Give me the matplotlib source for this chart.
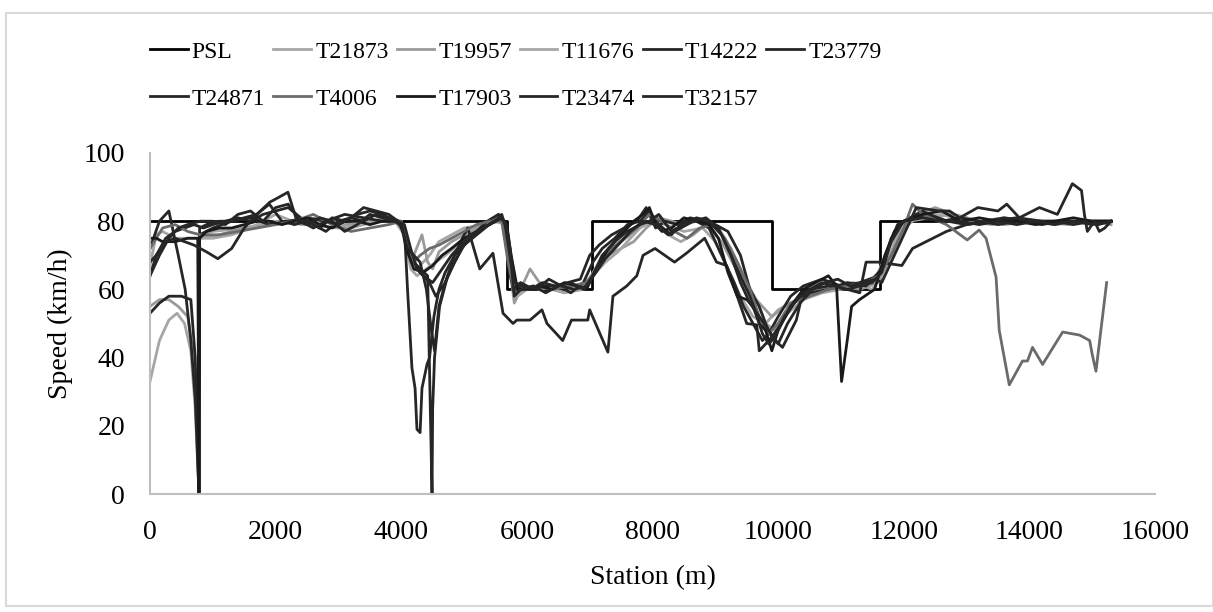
import matplotlib.pyplot as plt
from matplotlib.patches import Rectangle

# permissible speed limit
psl_x = [0, 5680, 5680, 7030, 7030, 9900, 9900, 11620, 11620, 15300]
psl_y = [80, 80, 60, 60, 80, 80, 60, 60, 80, 80]

t21873_x = [0, 150, 300, 430, 550, 650, 720, 780, 790, 1000, 1500, 2000, 2500, 3000, 3500, 3900, 4050, 4150,
            4250, 4350, 4450, 4600, 4800, 5000, 5300, 5600, 5700, 5800, 6000, 6200, 6500, 6800, 7000, 7200, 7500,
            7800, 8000, 8200, 8500, 8800, 9000, 9200, 9400, 9600, 9800, 10000, 10300, 10600, 10900, 11200, 11500,
            11700, 11900, 12100, 12400, 12800, 13200, 13600, 14000, 14400, 14800, 15300]
t21873_y = [33, 45, 51, 53, 50, 42, 25, 0, 76, 77, 78, 80, 79, 78, 80, 80, 78, 70, 66, 68, 70, 74, 76, 78, 79, 80,
            70, 60, 61, 60, 61, 61, 63, 70, 74, 78, 80, 79, 77, 78, 74, 66, 58, 52, 50, 54, 57, 60, 61, 62, 60, 66,
            76, 80, 81, 82, 80, 81, 80, 79, 80, 80]

t19957_x = [0, 150, 300, 450, 600, 700, 780, 790, 1100, 1500, 1900, 2300, 2700, 3100, 3500, 3800, 4000, 4100,
            4200, 4330, 4420, 4500, 4600, 4800, 5000, 5200, 5400, 5550, 5650, 5750, 5800, 5900, 6050, 6200, 6400,
            6600, 6800, 6950, 7100, 7300, 7500, 7700, 7900, 8100, 8300, 8500, 8700, 8900, 9100, 9300, 9500, 9700,
            9900, 10100, 10400, 10700, 11000, 11300, 11600, 11800, 12000, 12200, 12500, 12800, 13200, 13600, 14000,
            14500, 15000, 15300]
t19957_y = [55, 57, 57, 55, 52, 40, 0, 75, 76, 78, 79, 80, 81, 79, 80, 81, 80, 72, 70, 76, 68, 66, 71, 74, 76,
            78, 80, 82, 78, 63, 56, 60, 66, 62, 60, 59, 61, 62, 66, 70, 72, 74, 78, 81, 80, 79, 80, 78, 74, 67, 60,
            56, 52, 55, 58, 60, 61, 60, 62, 70, 78, 82, 84, 82, 80, 79, 80, 80, 80, 79]

t11676_x = [0, 100, 200, 400, 600, 800, 1000, 1300, 1600, 2000, 2400, 2800, 3200, 3600, 3900, 4050, 4150, 4250,
            4400, 4550, 4700, 4900, 5100, 5300, 5500, 5650, 5750, 5850, 6000, 6300, 6600, 6900, 7050, 7250, 7450,
            7650, 7850, 8050, 8250, 8450, 8650, 8850, 9050, 9250, 9450, 9650, 9800, 9950, 10150, 10400, 10700,
            11000, 11300, 11550, 11750, 11950, 12200, 12600, 13000, 13400, 13800, 14200, 14600, 15000, 15300]
t11676_y = [67, 76, 77, 75, 75, 75, 75, 76, 78, 82, 79, 80, 78, 80, 80, 76, 66, 64, 66, 68, 70, 73, 76, 78, 80,
            79, 70, 58, 60, 61, 59, 60, 64, 68, 71, 75, 79, 80, 76, 74, 76, 79, 78, 72, 64, 57, 50, 48, 53, 57, 59,
            60, 61, 63, 72, 77, 81, 82, 80, 79, 81, 80, 79, 80, 80]

t14222_x = [0, 150, 300, 450, 560, 650, 720, 780, 790, 900, 1100, 1300, 1500, 1700, 1900, 2100, 2300, 2500, 2700,
            2900, 3100, 3300, 3500, 3700, 3900, 4050, 4100, 4170, 4220, 4250, 4300, 4330, 4410, 4450, 4520, 4600,
            4700, 4850, 5000, 5150, 5300, 5500, 5600, 5700, 5780, 5900, 6100, 6300, 6500, 6700, 6900, 7050, 7200,
            7400, 7600, 7800, 7950, 8100, 8300, 8500, 8700, 8900, 9100, 9300, 9450, 9600, 9750, 9850, 10000, 10200,
            10400, 10700, 11000, 11300, 11600, 11750, 11900, 12100, 12400, 12700, 13000, 13300, 13600, 13900,
            14200, 14500, 14800, 15100, 15300]
t14222_y = [72, 80, 83, 70, 60, 45, 28, 0, 78, 79, 80, 80, 81, 82, 85, 80, 79, 80, 78, 81, 80, 82, 83, 82, 80,
            78, 60, 37, 31, 19, 18, 31, 38, 40, 52, 60, 65, 70, 73, 76, 78, 80, 81, 74, 60, 62, 60, 61, 61, 59, 62,
            68, 72, 75, 79, 80, 83, 79, 76, 80, 80, 78, 70, 62, 55, 50, 45, 47, 52, 58, 61, 63, 61, 62, 64, 72, 79,
            81, 82, 80, 79, 80, 81, 80, 79, 80, 80, 79, 80]

t23779_x = [0, 100, 250, 400, 550, 700, 850, 1000, 1200, 1400, 1600, 1800, 2000, 2200, 2400, 2600, 2800, 3000,
            3200, 3400, 3600, 3800, 3950, 4050, 4100, 4200, 4300, 4420, 4490, 4500, 4530, 4610, 4740, 4960, 5170,
            5370, 5550, 5650, 5720, 5800, 5900, 6050, 6250, 6450, 6650, 6850, 7000, 7150, 7350, 7550, 7750, 7900,
            8050, 8200, 8400, 8600, 8800, 9000, 9200, 9400, 9550, 9700, 9800, 9900, 10050, 10250, 10500, 10800,
            11100, 11400, 11650, 11800, 12000, 12300, 12600, 12900, 13200, 13500, 13800, 14100, 14400, 14700, 15000,
            15300]
t23779_y = [64, 70, 75, 77, 78, 79, 78, 79, 80, 81, 80, 82, 83, 84, 81, 79, 77, 80, 81, 80, 82, 81, 80, 78, 71,
            68, 66, 64, 0, 25, 40, 55, 64, 72, 76.5, 80, 82, 79, 65, 59, 61, 60, 62, 61, 62, 63, 70, 73, 76, 78, 80,
            84, 78, 80, 79, 81, 80, 79, 77, 70, 60, 55, 50, 46, 50, 56, 59, 60, 62, 61, 66, 75, 80, 83, 80, 81, 80,
            79, 80, 80, 80, 79, 80, 80]

t24871_x = [0, 150, 300, 500, 650, 720, 780, 790, 1000, 1300, 1600, 1900, 2200, 2500, 2800, 3100, 3400, 3700, 3950,
            4050, 4150, 4300, 4450, 4550, 4700, 4850, 5000, 5060, 5250, 5460, 5620, 5780, 5840, 6050, 6240, 6320,
            6570, 6710, 6970, 7000, 7290, 7370, 7590, 7750, 7850, 8040, 8350, 8540, 8830, 9020, 9180, 9500, 9660,
            9700, 9900, 10070, 10290, 10390, 10500, 10800, 11100, 11300, 11400, 11600, 11970, 12140, 12680, 13000,
            13400, 13800, 14200, 14600, 15000, 15300]
t24871_y = [53, 56, 58, 58, 57, 40, 0, 76, 78, 80, 81, 79, 80, 81, 80, 82, 81, 80, 80, 76, 70, 65, 62, 58, 62, 70,
            76, 78, 66, 70.6, 53, 50, 51, 51, 54, 50, 45, 51, 51, 54, 41.6, 58, 61, 64, 70, 72, 68, 70.6, 75, 68, 67,
            50, 49.6, 42, 46, 43, 51, 59, 60, 61, 60, 59, 68, 68, 67, 72, 77, 79, 80, 81, 80, 80, 80, 80]

t4006_x = [0, 200, 400, 600, 800, 1100, 1400, 1700, 2000, 2300, 2600, 2900, 3200, 3500, 3800, 4000, 4100, 4200,
           4300, 4450, 4600, 4800, 5000, 5200, 5400, 5600, 5700, 5800, 5950, 6100, 6400, 6700, 6950, 7150, 7350,
           7550, 7750, 7950, 8150, 8350, 8550, 8750, 8950, 9150, 9350, 9550, 9700, 9850, 10000, 10200, 10500,
           10800, 11100, 11400, 11600, 11800, 12000, 12140, 12300, 12680, 13010, 13200, 13310, 13470, 13520, 13680,
           13890, 13970, 14050, 14210, 14530, 14800, 14960, 15000, 15060, 15230]
t4006_y = [72, 78, 79, 77, 76, 76, 77, 78, 79, 80, 82, 79, 77, 78, 79, 80, 74, 68, 70, 72, 73, 75, 77, 79, 80, 80,
           68, 59, 60, 61, 60, 61, 62, 67, 72, 75, 78, 82, 80, 77, 75, 78, 79, 75, 68, 60, 52, 47, 50, 56, 58, 60,
           61, 62, 64, 70, 78, 85, 82, 79, 74.5, 77.4, 75, 63.6, 48, 32, 39, 39, 43, 38, 47.5, 46.6, 45, 41, 36, 62]

t17903_x = [0, 100, 200, 400, 600, 760, 780, 790, 900, 1100, 1300, 1500, 1700, 1900, 2100, 2300, 2500, 2700, 2900,
            3100, 3300, 3500, 3700, 3900, 4000, 4080, 4200, 4350, 4500, 4650, 4800, 5000, 5200, 5400, 5600, 5680,
            5750, 5850, 6000, 6200, 6400, 6600, 6800, 6950, 7100, 7300, 7500, 7700, 7850, 7950, 8050, 8150, 8300,
            8500, 8700, 8900, 9050, 9200, 9350, 9500, 9600, 9700, 9800, 9900, 10000, 10200, 10400, 10600, 10800,
            10930, 11010, 11100, 11170, 11296, 11535, 11700, 11850, 12000, 12300, 12600, 12900, 13200, 13500, 13800,
            14100, 14400, 14700, 15000, 15300]
t17903_y = [75, 75, 74, 74, 75, 75, 0, 75, 77, 78, 78, 79, 80, 80, 79, 80, 81, 79, 78, 80, 80, 79, 80, 80, 79, 72,
            66, 65, 67, 70, 72, 75, 77, 79, 81, 79, 70, 60, 60, 61, 60, 62, 61, 60, 66, 72, 76, 80, 82, 84, 79, 77,
            78, 81, 80, 79, 75, 65, 58, 57, 55, 50, 48, 42, 48, 55, 60, 62, 64, 61, 33, 45, 55, 57, 60, 70, 77, 80,
            82, 83, 80, 81, 80, 80, 79, 80, 81, 80, 80]

t23474_x = [0, 150, 300, 450, 600, 800, 1000, 1200, 1400, 1600, 1800, 2000, 2200, 2400, 2600, 2800, 3000, 3200,
            3400, 3600, 3800, 3950, 4050, 4150, 4250, 4350, 4500, 4650, 4800, 4950, 5100, 5300, 5500, 5600, 5700,
            5800, 5950, 6150, 6350, 6550, 6750, 6950, 7100, 7250, 7450, 7650, 7850, 8050, 8250, 8450, 8650, 8850,
            9050, 9250, 9400, 9550, 9700, 9850, 10000, 10150, 10350, 10550, 10750, 10950, 11150, 11350, 11550,
            11650, 11800, 12000, 12200, 12570, 12730, 12890, 13180, 13500, 13640, 13840, 14160, 14446, 14685, 14830,
            14876, 14923, 15035, 15114, 15200, 15300]
t23474_y = [64, 70, 75, 78, 79, 80, 80, 79, 82, 83, 80, 84, 85, 80, 78, 80, 79, 81, 84, 83, 82, 80, 79, 72, 66,
            64, 62, 66, 70, 73, 76, 78, 80, 82, 76, 62, 61, 60, 63, 61, 60, 61, 65, 69, 73, 77, 80, 79, 76, 78, 80,
            81, 78, 70, 62, 56, 52, 48, 44, 50, 56, 60, 62, 63, 61, 62, 63, 62, 68, 76, 84, 83, 83, 81, 84, 83, 85,
            81, 84, 82, 91, 89, 82, 77, 80, 77, 78, 80]

t32157_x = [0, 100, 250, 400, 550, 700, 900, 1080, 1300, 1500, 1700, 1909, 2050, 2196, 2339, 2500, 2700, 2900,
            3100, 3300, 3500, 3700, 3900, 4000, 4100, 4200, 4300, 4400, 4480, 4530, 4600, 4700, 4850, 5000, 5200,
            5400, 5550, 5650, 5730, 5800, 5900, 6100, 6300, 6500, 6700, 6900, 7050, 7200, 7400, 7600, 7800, 7950,
            8100, 8300, 8500, 8700, 8900, 9100, 9250, 9400, 9550, 9650, 9750, 9850, 9950, 10100, 10300, 10500,
            10700, 10900, 11100, 11300, 11500, 11650, 11800, 12000, 12300, 12600, 12900, 13200, 13500, 13800,
            14100, 14400, 14700, 15000, 15300]
t32157_y = [68, 70, 74, 75, 74, 73, 71, 69, 72, 78, 82, 85.6, 87, 88.5, 80, 79, 81, 80, 77, 79, 82, 81, 80, 79,
            72, 70, 68, 60, 48, 42, 55, 62, 68, 73, 76, 79, 81, 80, 72, 58, 60, 61, 59, 61, 62, 60, 64, 70, 74, 77,
            79, 80, 82, 77, 79, 81, 80, 76, 70, 64, 58, 53, 47, 44, 46, 52, 57, 60, 62, 61, 60, 61, 62, 65, 74, 80,
            81, 80, 80, 79, 80, 79, 80, 79, 80, 79, 80]

series = [
    ("PSL", psl_x, psl_y, "#000000"),
    ("T21873", t21873_x, t21873_y, "#a6a6a6"),
    ("T19957", t19957_x, t19957_y, "#9a9a9a"),
    ("T11676", t11676_x, t11676_y, "#a6a6a6"),
    ("T14222", t14222_x, t14222_y, "#262626"),
    ("T23779", t23779_x, t23779_y, "#262626"),
    ("T24871", t24871_x, t24871_y, "#262626"),
    ("T4006", t4006_x, t4006_y, "#6b6b6b"),
    ("T17903", t17903_x, t17903_y, "#1a1a1a"),
    ("T23474", t23474_x, t23474_y, "#262626"),
    ("T32157", t32157_x, t32157_y, "#262626"),
]

FS = 20
plt.rcParams["font.family"] = ["Liberation Serif", "DejaVu Serif"]

fig = plt.figure(figsize=(12.13, 6.12), dpi=100)
ax = fig.add_axes([150 / 1213, 1 - 494 / 612, (1155 - 150) / 1213, (494 - 153) / 612])

handles = []
for name, xs, ys, col in series:
    (ln,) = ax.plot(xs, ys, color=col, lw=2.0, label=name)
    handles.append(ln)

ax.set_xlim(0, 16000)
ax.set_ylim(0, 100)
ax.set_xticks(range(0, 16001, 2000))
ax.set_yticks(range(0, 101, 20))
ax.tick_params(length=0, labelsize=FS)
ax.tick_params(axis="x", pad=19)
ax.tick_params(axis="y", pad=18)
for s in ("top", "right"):
    ax.spines[s].set_visible(False)
for s in ("left", "bottom"):
    ax.spines[s].set_color("#bfbfbf")
    ax.spines[s].set_linewidth(1.5)

ax.set_xlabel("Station (m)", fontsize=FS, labelpad=14)
ax.set_ylabel("Speed (km/h)", fontsize=FS, labelpad=8)

# row-major legend order for a 6-column legend
order = [0, 6, 1, 7, 2, 8, 3, 9, 4, 10, 5]
fig.legend([handles[i] for i in order], [series[i][0] for i in order],
           loc="upper left", bbox_to_anchor=(150 / 1213, 1 - 41 / 612), ncol=6, frameon=False,
           fontsize=17, handlelength=1.6, handletextpad=0.17, columnspacing=0.34,
           labelspacing=1.08, borderpad=0, borderaxespad=0)

fig.patches.append(Rectangle((6 / 1213, 6 / 612), 1 - 6 / 1213, 1 - 19 / 612, transform=fig.transFigure,
                             fill=False, edgecolor="#d9d9d9", lw=1.5))

fig.savefig("out.png", dpi=100)
